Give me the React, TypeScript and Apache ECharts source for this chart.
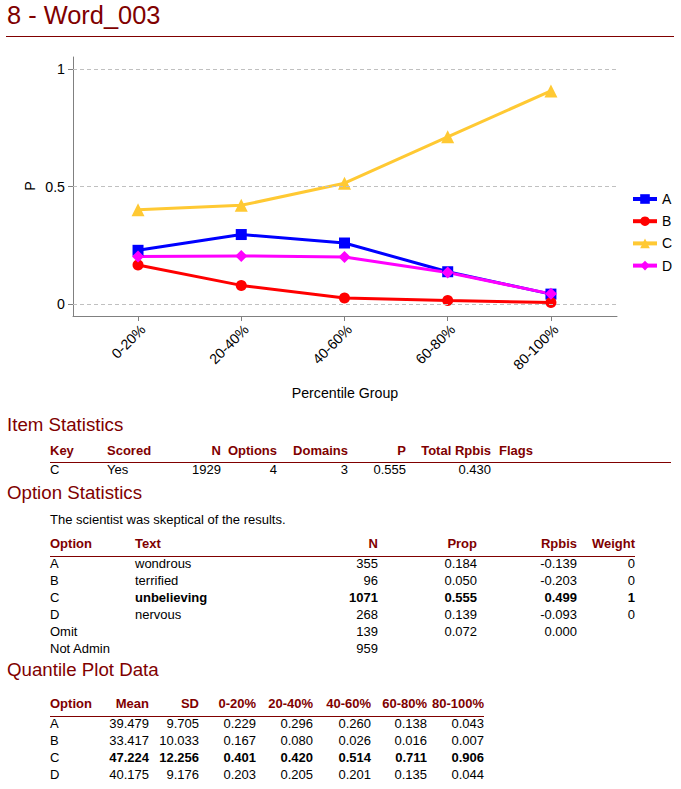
import React, { useEffect, useRef } from 'react';
import * as echarts from 'echarts';

// ---------- chart data ----------
const categories = ['0-20%', '20-40%', '40-60%', '60-80%', '80-100%'];
const seriesNames = ['A', 'B', 'C', 'D'];
const valuesA = [0.229, 0.296, 0.26, 0.138, 0.043];
const valuesB = [0.167, 0.08, 0.026, 0.016, 0.007];
const valuesC = [0.401, 0.42, 0.514, 0.711, 0.906];
const valuesD = [0.203, 0.205, 0.201, 0.135, 0.044];
const yTickValues = [0, 0.5, 1];
const categoryIndexes = [0, 1, 2, 3, 4];
const yAxisTitle = 'P';
const xAxisTitle = 'Percentile Group';

// ---------- table data ----------
const itemHeaders = ['Key', 'Scored', 'N', 'Options', 'Domains', 'P', 'Total Rpbis', 'Flags'];
const itemRow = ['C', 'Yes', '1929', '4', '3', '0.555', '0.430', ''];
const questionText = 'The scientist was skeptical of the results.';
const optionHeaders = ['Option', 'Text', 'N', 'Prop', 'Rpbis', 'Weight'];
const optionRows = [
  ['A', 'wondrous', '355', '0.184', '-0.139', '0'],
  ['B', 'terrified', '96', '0.050', '-0.203', '0'],
  ['C', 'unbelieving', '1071', '0.555', '0.499', '1'],
  ['D', 'nervous', '268', '0.139', '-0.093', '0'],
  ['Omit', '', '139', '0.072', '0.000', ''],
  ['Not Admin', '', '959', '', '', ''],
];
const quantileHeaders = ['Option', 'Mean', 'SD', '0-20%', '20-40%', '40-60%', '60-80%', '80-100%'];
const quantileRows = [
  ['A', '39.479', '9.705', '0.229', '0.296', '0.260', '0.138', '0.043'],
  ['B', '33.417', '10.033', '0.167', '0.080', '0.026', '0.016', '0.007'],
  ['C', '47.224', '12.256', '0.401', '0.420', '0.514', '0.711', '0.906'],
  ['D', '40.175', '9.176', '0.203', '0.205', '0.201', '0.135', '0.044'],
];
const keyOption = 'C';

// ---------- layout ----------
const W = 681;
const H = 789;
const FONT = '"Liberation Sans", Arial, sans-serif';
const DARK_RED = '#800000';

type Col = { x: number; align: 'left' | 'right' };
const itemCols: Col[] = [
  { x: 50, align: 'left' }, { x: 107, align: 'left' }, { x: 221, align: 'right' },
  { x: 277, align: 'right' }, { x: 348, align: 'right' }, { x: 406, align: 'right' },
  { x: 491, align: 'right' }, { x: 499, align: 'left' },
];
const optionCols: Col[] = [
  { x: 50, align: 'left' }, { x: 135, align: 'left' }, { x: 378, align: 'right' },
  { x: 477, align: 'right' }, { x: 577, align: 'right' }, { x: 635, align: 'right' },
];
const quantileCols: Col[] = [
  { x: 50, align: 'left' }, { x: 149, align: 'right' }, { x: 199, align: 'right' },
  { x: 256, align: 'right' }, { x: 313, align: 'right' }, { x: 371, align: 'right' },
  { x: 427, align: 'right' }, { x: 484, align: 'right' },
];

function Txt(props: {
  x: number; baseline: number; size: number; align?: 'left' | 'right';
  bold?: boolean; color?: string; children: React.ReactNode;
}) {
  const { x, baseline, size, align = 'left', bold, color = '#000', children } = props;
  const style: React.CSSProperties = {
    position: 'absolute',
    top: baseline - 0.8465 * size,
    fontSize: size,
    lineHeight: `${size}px`,
    fontFamily: FONT,
    fontWeight: bold ? 'bold' : 'normal',
    color,
    whiteSpace: 'nowrap',
  };
  if (align === 'left') style.left = x;
  else style.right = W - x;
  return <span style={style}>{children}</span>;
}

function Rule(props: { x1: number; x2: number; y: number }) {
  return (
    <div
      style={{
        position: 'absolute', left: props.x1, top: props.y - 0.5,
        width: props.x2 - props.x1, height: 1, background: DARK_RED,
      }}
    />
  );
}

function Table(props: {
  cols: Col[]; headers: string[]; rows: string[][]; headerBase: number;
  ruleY: number; ruleX2: number; firstRowBase: number; rowStep: number;
  boldRow?: (r: string[]) => boolean;
}) {
  const { cols, headers, rows, headerBase, ruleY, ruleX2, firstRowBase, rowStep, boldRow } = props;
  const out: React.ReactNode[] = [];
  headers.forEach((h, i) => {
    out.push(
      <Txt key={'h' + i} x={cols[i].x} baseline={headerBase} size={13} align={cols[i].align} bold color={DARK_RED}>
        {h}
      </Txt>
    );
  });
  out.push(<Rule key="rule" x1={50} x2={ruleX2} y={ruleY} />);
  rows.forEach((r, ri) => {
    const b = boldRow ? boldRow(r) : false;
    r.forEach((c, ci) => {
      if (!c) return;
      out.push(
        <Txt key={`r${ri}c${ci}`} x={cols[ci].x} baseline={firstRowBase + ri * rowStep} size={13} align={cols[ci].align} bold={b && ci > 0}>
          {c}
        </Txt>
      );
    });
  });
  return <>{out}</>;
}

export default function App() {
  const ref = useRef<HTMLDivElement>(null);

  useEffect(() => {
    if (!ref.current) return;
    const chart = echarts.init(ref.current, null, { renderer: 'svg' });
    const colors = ['#0000FF', '#FF0000', '#FFC933', '#FF00FF'];
    const symbols = ['rect', 'circle', 'triangle', 'diamond'];
    const sizes = [11, 11, 13, 12];
    const allValues = [valuesA, valuesB, valuesC, valuesD];
    const labelStyle = { color: '#000', fontFamily: FONT, fontSize: 14.2 };

    const lineSeries = seriesNames.map((name, i) => ({
      name,
      type: 'line',
      z: 3,
      data: allValues[i].map((v, j) => [categoryIndexes[j], v]),
      symbol: symbols[i],
      symbolSize: sizes[i],
      showAllSymbol: true,
      itemStyle: { color: colors[i] },
      lineStyle: { color: colors[i], width: 3 },
      emphasis: { disabled: true },
    }));

    chart.setOption({
      animation: false,
      grid: { left: 73, top: 57, width: 544, height: 259, outerBoundsMode: 'none' },
      graphic: [
        {
          type: 'text',
          x: 30,
          y: 186,
          rotation: Math.PI / 2,
          silent: true,
          style: {
            text: yAxisTitle,
            align: 'center',
            verticalAlign: 'middle',
            fill: '#000',
            fontFamily: FONT,
            fontSize: 14.2,
          },
        },
      ],
      legend: {
        data: seriesNames,
        orient: 'vertical',
        left: 626,
        top: 187,
        itemWidth: 24,
        itemHeight: 12,
        itemGap: 8.2,
        lineStyle: { width: 4 },
        textStyle: { color: '#000', fontFamily: FONT, fontSize: 14 },
        selectedMode: false,
      },
      xAxis: {
        type: 'value',
        min: -0.63,
        max: 4.64,
        name: xAxisTitle,
        nameLocation: 'middle',
        nameGap: 70,
        nameTextStyle: labelStyle,
        axisLine: { show: true, onZero: false, lineStyle: { color: '#808080', width: 1 } },
        axisTick: { show: true, customValues: categoryIndexes, length: 5, lineStyle: { color: '#808080' } },
        axisLabel: {
          customValues: categoryIndexes,
          rotate: 45,
          margin: 6,
          verticalAlign: 'top',
          formatter: (v: number) => categories[Math.round(v)] ?? '',
          ...labelStyle,
        },
        splitLine: { show: false },
      },
      yAxis: {
        type: 'value',
        min: -0.05,
        max: 1.05,
        axisLine: { show: true, onZero: false, lineStyle: { color: '#808080', width: 1 } },
        axisTick: { show: true, customValues: yTickValues, length: 5, lineStyle: { color: '#808080' } },
        axisLabel: {
          customValues: yTickValues,
          margin: 8,
          formatter: (v: number) => String(v),
          ...labelStyle,
        },
        splitLine: { show: false },
      },
      series: [
        {
          name: 'grid',
          type: 'line',
          z: 1,
          data: [],
          markLine: {
            silent: true,
            symbol: 'none',
            label: { show: false },
            lineStyle: { color: '#c0c0c0', type: [4, 3], width: 1 },
            emphasis: { disabled: true },
            data: yTickValues.map((v) => ({ yAxis: v })),
          },
        },
        ...lineSeries,
      ],
    });
    return () => chart.dispose();
  }, []);

  return (
    <div style={{ position: 'absolute', left: 0, top: 0, width: W, height: H, background: '#fff', overflow: 'hidden' }}>
      <div ref={ref} style={{ position: 'absolute', left: 0, top: 0, width: W, height: 410 }} />
      <Txt x={7} baseline={25} size={25.4} color={DARK_RED}>8 - Word_003</Txt>
      <Rule x1={6} x2={674} y={36} />

      <Txt x={7} baseline={432} size={18.7} color={DARK_RED}>Item Statistics</Txt>
      <Table cols={itemCols} headers={itemHeaders} rows={[itemRow]} headerBase={455} ruleY={462}
        ruleX2={671} firstRowBase={474} rowStep={17} />

      <Txt x={7} baseline={500} size={18.7} color={DARK_RED}>Option Statistics</Txt>
      <Txt x={50} baseline={524} size={13}>{questionText}</Txt>
      <Table cols={optionCols} headers={optionHeaders} rows={optionRows} headerBase={548} ruleY={556}
        ruleX2={635} firstRowBase={568} rowStep={17} boldRow={(r) => r[0] === keyOption} />

      <Txt x={7} baseline={677} size={18.7} color={DARK_RED}>Quantile Plot Data</Txt>
      <Table cols={quantileCols} headers={quantileHeaders} rows={quantileRows} headerBase={708} ruleY={716}
        ruleX2={484} firstRowBase={728} rowStep={17} boldRow={(r) => r[0] === keyOption} />
    </div>
  );
}
